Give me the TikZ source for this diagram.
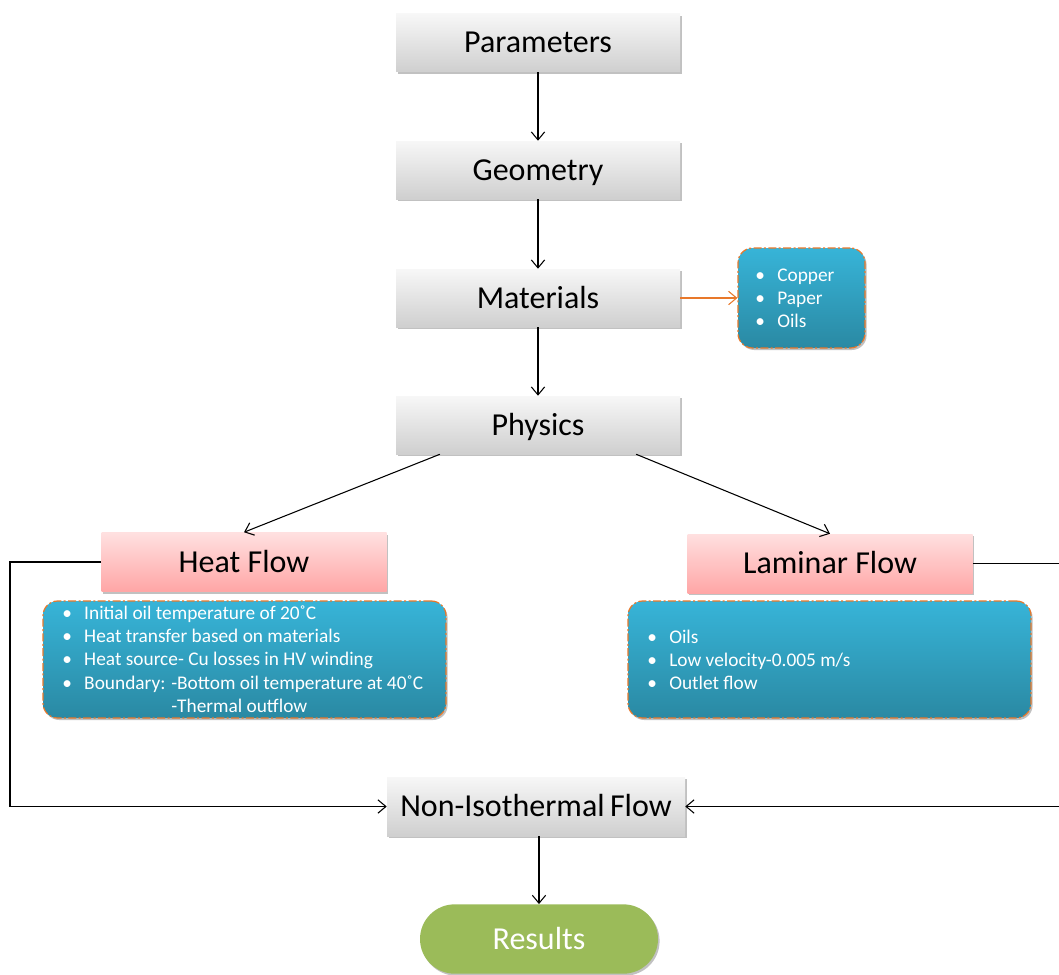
\documentclass[tikz,border=0pt]{standalone}
\usepackage{fontspec}
\setmainfont{Carlito}
\usetikzlibrary{arrows.meta,shadows,calc}
\definecolor{orangeline}{HTML}{E8782A}
\definecolor{tealtop}{HTML}{37B4D8}
\definecolor{tealbot}{HTML}{2A89A3}
\definecolor{pinktop}{HTML}{FFE0E0}
\definecolor{pinkbot}{HTML}{FFA6A6}
\definecolor{greytop}{HTML}{F7F7F7}
\definecolor{greybot}{HTML}{CFCFCF}
\definecolor{resgreen}{HTML}{9BBB59}
\newcommand{\bl}[1]{\makebox[16.5pt][l]{\textbullet}#1}
\begin{document}
\begin{tikzpicture}[x=0.75pt,y=-0.75pt,
  shad/.style={drop shadow={shadow xshift=1.2pt,shadow yshift=-1.5pt,opacity=0.35,fill=black!70}},
  bigtext/.style={font=\fontsize{24}{28}\selectfont,text height=20pt,text depth=5pt},
  greybox/.style={shad,bigtext,top color=greytop,bottom color=greybot,draw=none,minimum width=213pt,minimum height=43.5pt,inner sep=0pt},
  pinkbox/.style={shad,bigtext,top color=pinktop,bottom color=pinkbot,draw=none,minimum width=213.75pt,minimum height=44.25pt,inner sep=0pt},
  callout/.style={shad,top color=tealtop,bottom color=tealbot,draw=orangeline,line width=0.9pt,dash pattern=on 6pt off 1.8pt on 1.5pt off 1.8pt,rounded corners=11pt,inner sep=0pt},
  listtext/.style={text=white,align=left,inner sep=0pt,font=\fontsize{14.5}{17.4}\selectfont},
  conn/.style={black,line width=0.8pt,-{Straight Barb[length=6pt,width=10pt]}},
  oconn/.style={orangeline,line width=0.8pt,-{Straight Barb[length=6pt,width=10pt]}}]
\useasboundingbox (0,0) rectangle (1059,974);

\node[greybox] (par) at (538,43) {Parameters};
\node[greybox] (geo) at (538,170) {Geometry};
\node[greybox] (mat) at (538,298) {Materials};
\node[greybox] (phy) at (538,425) {Physics};

\node[callout,minimum width=95.25pt,minimum height=75pt] (matc) at (801.5,298) {};
\node[listtext,anchor=west] (matl) at (755,298) {\bl{Copper}\\\bl{Paper}\\\bl{Oils}};

\node[pinkbox] (heat) at (244,562) {Heat Flow};
\node[pinkbox] (lam) at (830,563.5) {Laminar Flow};

\node[callout,minimum width=302.25pt,minimum height=87.75pt] (heatc) at (244.5,659.5) {};
\node[listtext,anchor=west] (heatl) at (62,660.5) {\bl{Initial oil temperature of 20˚C}\\\bl{Heat transfer based on materials}\\\bl{Heat source- Cu losses in HV winding}\\\bl{Boundary: -Bottom oil temperature at 40˚C}\\\hspace*{16.5pt}\phantom{Boundary: }-Thermal outflow};

\node[callout,minimum width=302.25pt,minimum height=87.75pt] (lamc) at (829.5,659.5) {};
\node[listtext,anchor=west] (laml) at (647,660) {\bl{Oils}\\\bl{Low velocity-0.005 m/s}\\\bl{Outlet flow}};

\node[greybox,minimum width=223.5pt,minimum height=44.25pt] (non) at (536,806.5) {Non-Isothermal\,Flow};
\node[shad,bigtext,fill=resgreen,rounded corners=26pt,minimum width=178.5pt,minimum height=52pt,inner sep=0pt,text=white] (res) at (539,939) {Results};

\coordinate (pA) at ($(phy.south west)!0.155!(phy.south east)$);
\coordinate (pB) at ($(phy.south west)!0.845!(phy.south east)$);
\coordinate (l1) at (10,562);
\coordinate (l2) at (10,806.5);
\coordinate (r1) at (1070,563.5);
\coordinate (r2) at (1070,806.5);
\coordinate (nb) at (res.north |- non.south);

\draw[conn] (par) -- (geo);
\draw[conn] (geo) -- (mat);
\draw[conn] (mat) -- (phy);
\draw[oconn] (mat.east) -- (matc.west);
\draw[conn] (pA) -- (heat.north);
\draw[conn] (pB) -- (lam.north);
\draw[conn] (heat.west) -- (l1) -- (l2) -- (non.west);
\draw[conn] (lam.east) -- (r1) -- (r2) -- (non.east);
\draw[conn] (nb) -- (res.north);
\end{tikzpicture}
\end{document}
